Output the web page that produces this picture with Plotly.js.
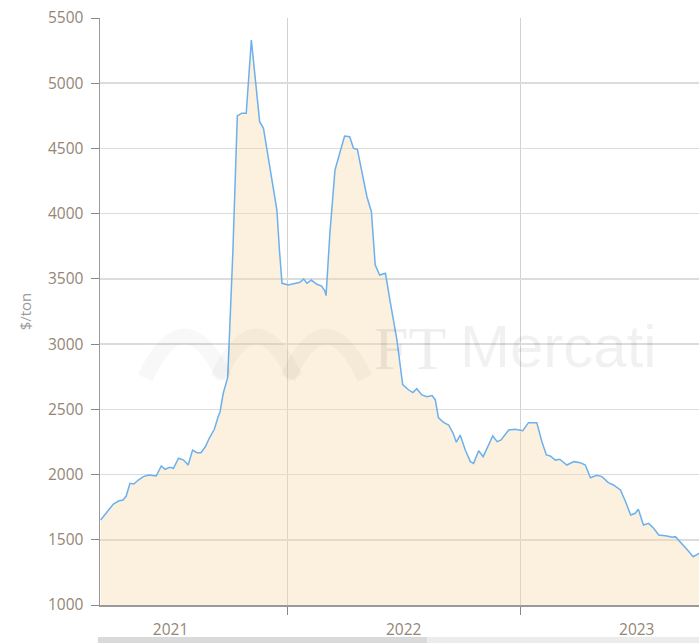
<!DOCTYPE html>
<html>
<head>
<meta charset="utf-8">
<script src="https://cdn.plot.ly/plotly-3.0.1.min.js"></script>
<style>html,body{margin:0;padding:0;background:#fff;}#chart{width:699px;height:643px;}</style>
</head>
<body>
<div id="chart"></div>
<script>
var dates = [
  "2021-03-15","2021-03-25","2021-04-04","2021-04-12","2021-04-19","2021-04-24","2021-04-30",
  "2021-05-06","2021-05-13","2021-05-21","2021-05-29","2021-06-10","2021-06-18","2021-06-24",
  "2021-07-01","2021-07-07","2021-07-15","2021-07-23","2021-07-30","2021-08-06","2021-08-13",
  "2021-08-19","2021-08-26","2021-09-01","2021-09-09","2021-09-15","2021-09-18","2021-09-23",
  "2021-09-30","2021-10-08","2021-10-15","2021-10-22","2021-10-29","2021-11-06","2021-11-19",
  "2021-11-25","2021-11-30","2021-12-08","2021-12-16","2021-12-20","2021-12-24",
  "2022-01-03","2022-01-13","2022-01-21","2022-01-27","2022-02-01","2022-02-08","2022-02-16",
  "2022-02-24","2022-03-01","2022-03-03","2022-03-09","2022-03-17","2022-03-24","2022-04-01",
  "2022-04-09","2022-04-15","2022-04-21","2022-04-28","2022-05-06","2022-05-13","2022-05-19",
  "2022-05-26","2022-06-04","2022-06-11","2022-06-22","2022-07-01","2022-07-10","2022-07-17",
  "2022-07-23","2022-07-31","2022-08-08","2022-08-16","2022-08-21","2022-08-26","2022-09-03",
  "2022-09-11","2022-09-18","2022-09-23","2022-09-29","2022-10-07","2022-10-15","2022-10-20",
  "2022-10-28","2022-11-04","2022-11-11","2022-11-19","2022-11-26","2022-12-02","2022-12-14",
  "2022-12-24",
  "2023-01-05","2023-01-14","2023-01-27","2023-02-04","2023-02-11","2023-02-17","2023-02-25",
  "2023-03-04","2023-03-15","2023-03-26","2023-04-05","2023-04-13","2023-04-21","2023-05-01",
  "2023-05-09","2023-05-19","2023-05-27","2023-06-07","2023-06-15","2023-06-23","2023-06-30",
  "2023-07-05","2023-07-13","2023-07-21","2023-07-29","2023-08-06","2023-08-19","2023-08-27",
  "2023-09-01","2023-09-11","2023-09-19","2023-09-29","2023-10-08"
];
var prices = [
  1652,1715,1774,1797,1805,1835,1933,
  1928,1958,1984,1997,1989,2066,2040,
  2055,2048,2125,2111,2073,2188,2168,
  2168,2213,2278,2347,2443,2482,2623,
  2745,3700,4749,4770,4770,5331,4705,
  4654,4513,4258,4028,3722,3466,
  3453,3466,3474,3499,3466,3491,3461,
  3445,3409,3372,3850,4335,4450,4595,
  4590,4501,4493,4309,4130,4015,3606,
  3530,3543,3338,3031,2690,2650,2628,
  2658,2610,2597,2605,2574,2435,2400,
  2380,2316,2248,2303,2188,2099,2086,
  2183,2137,2214,2296,2252,2265,2342,
  2347,
  2336,2398,2398,2252,2150,2142,2111,
  2117,2073,2099,2091,2073,1976,1994,
  1984,1938,1920,1882,1792,1690,1703,
  1734,1613,1626,1588,1537,1529,1519,
  1524,1473,1427,1370,1396
];
var yTickVals = [1000,1500,2000,2500,3000,3500,4000,4500,5000,5500];
var yTitle = "$/ton";
var watermarkA = "FT";
var watermarkB = "Mercati";

var labelFont = {family: "Open Sans, DejaVu Sans, sans-serif", size: 15.5, color: "#948676"};

var trace = {
  x: dates, y: prices, type: "scatter", mode: "lines",
  line: {color: "#6cb0ee", width: 1.5},
  fill: "tozeroy", fillcolor: "rgba(248,218,168,0.38)",
  hoverinfo: "x+y"
};

function px(x){ return (x-100)/599; }
function py(y){ return (605-y)/587; }
function arch(x0, xm, x1, ytop, ybase){
  return "M " + px(x0) + "," + py(ybase) + " Q " + px(xm) + "," + py(ytop - 40) + " " + px(x1) + "," + py(ybase);
}

var wmColor = "rgba(0,0,0,0.028)";
var shapes = [
  {type:"path", xref:"paper", yref:"paper", path: arch(145,184,225,335,378), line:{color:wmColor, width:16}, layer:"above"},
  {type:"path", xref:"paper", yref:"paper", path: arch(218,256,295,335,378), line:{color:wmColor, width:16}, layer:"above"},
  {type:"path", xref:"paper", yref:"paper", path: arch(288,325,365,335,378), line:{color:wmColor, width:16}, layer:"above"},
  {type:"rect", xref:"paper", yref:"paper", x0:px(98), x1:px(427), y0:py(643), y1:py(637), fillcolor:"#dadada", line:{width:0}},
  {type:"rect", xref:"paper", yref:"paper", x0:px(427), x1:px(699), y0:py(643), y1:py(637), fillcolor:"#ececec", line:{width:0}}
];

var layout = {
  width: 699, height: 643,
  margin: {l: 100, r: 0, t: 18, b: 38, pad: 0},
  paper_bgcolor: "#ffffff", plot_bgcolor: "#ffffff",
  showlegend: false,
  xaxis: {
    type: "date",
    range: ["2021-03-14", "2023-10-08"],
    tick0: "2021-01-01", dtick: "M12",
    tickformat: "%Y", ticklabelmode: "period",
    ticks: "outside", ticklen: 8, tickcolor: "#888888", tickwidth: 1,
    showgrid: true, gridcolor: "#d2d2d2", gridwidth: 1,
    showline: true, linecolor: "#999999", linewidth: 1.5,
    zeroline: false, tickfont: labelFont, ticklabelstandoff: 2
  },
  yaxis: {
    range: [1000, 5500],
    tickvals: yTickVals,
    ticks: "outside", ticklen: 8, tickcolor: "#888888", tickwidth: 1,
    showgrid: true, gridcolor: "#dcdcdc", gridwidth: 1.5,
    showline: true, linecolor: "#999999", linewidth: 1.5,
    zeroline: false, tickfont: labelFont, ticklabelstandoff: 4,
    title: {text: yTitle, font: {family: "Open Sans, DejaVu Sans, sans-serif", size: 15, color: "#9a9a9a"}, standoff: 12}
  },
  annotations: [
    {text: watermarkA, xref: "paper", yref: "paper", x: px(410), y: py(348), xanchor: "center", yanchor: "middle",
     showarrow: false, font: {family: "Liberation Serif, serif", size: 62, color: "rgba(0,0,0,0.065)"}},
    {text: watermarkB, xref: "paper", yref: "paper", x: px(558), y: py(346), xanchor: "center", yanchor: "middle",
     showarrow: false, font: {family: "Liberation Sans, Arial, sans-serif", size: 60, color: "rgba(0,0,0,0.055)"}}
  ],
  shapes: shapes
};

Plotly.newPlot("chart", [trace], layout, {displayModeBar: false, staticPlot: true});
</script>
</body>
</html>
